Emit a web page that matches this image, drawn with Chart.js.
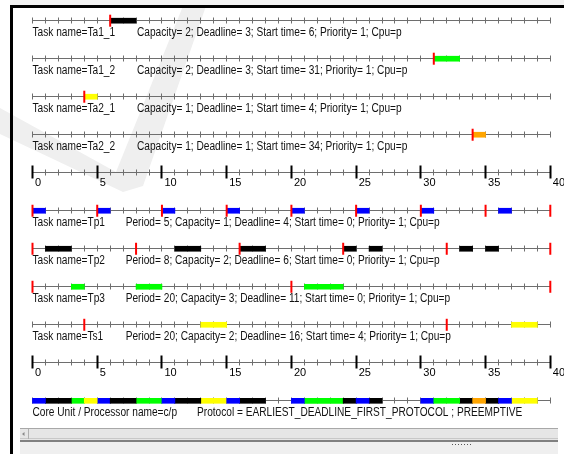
<!DOCTYPE html>
<html><head><meta charset="utf-8">
<script src="https://cdn.jsdelivr.net/npm/chart.js@4/dist/chart.umd.min.js"></script>
<style>html,body{margin:0;padding:0;background:#fff;overflow:hidden}#wrap{position:relative;width:564px;height:454px}</style>
</head><body><div id="wrap"><canvas id="c" width="564" height="454"></canvas></div>
<script>
// ---- data ----
const timeTicks = [0, 5, 10, 15, 20, 25, 30, 35, 40];
const ta1_1Runs = [[6, 8]];
const ta1_2Runs = [[31, 33]];
const ta2_1Runs = [[4, 5]];
const ta2_2Runs = [[34, 35]];
const tp1Runs = [[0, 1], [5, 6], [10, 11], [15, 16], [20, 21], [25, 26], [30, 31], [36, 37]];
const tp2Runs = [[1, 3], [11, 13], [16, 18], [24, 25], [26, 27], [33, 34], [35, 36]];
const tp3Runs = [[3, 4], [8, 10], [21, 24]];
const ts1Runs = [[13, 15], [37, 39]];
const ta1_1Releases = [6];
const ta1_2Releases = [31];
const ta2_1Releases = [4];
const ta2_2Releases = [34];
const tp1Releases = [0, 5, 10, 15, 20, 25, 30, 35, 40];
const tp2Releases = [0, 8, 16, 24, 32, 40];
const tp3Releases = [0, 20, 40];
const ts1Releases = [4, 32];
const taskNames = ['Task name=Ta1_1', 'Task name=Ta1_2', 'Task name=Ta2_1', 'Task name=Ta2_2',
  'Task name=Tp1', 'Task name=Tp2', 'Task name=Tp3', 'Task name=Ts1'];
const taskParams = [
  'Capacity= 2; Deadline= 3; Start time= 6; Priority= 1; Cpu=p',
  'Capacity= 2; Deadline= 3; Start time= 31; Priority= 1; Cpu=p',
  'Capacity= 1; Deadline= 1; Start time= 4; Priority= 1; Cpu=p',
  'Capacity= 1; Deadline= 1; Start time= 34; Priority= 1; Cpu=p',
  'Period= 5; Capacity= 1; Deadline= 4; Start time= 0; Priority= 1; Cpu=p',
  'Period= 8; Capacity= 2; Deadline= 6; Start time= 0; Priority= 1; Cpu=p',
  'Period= 20; Capacity= 3; Deadline= 11; Start time= 0; Priority= 1; Cpu=p',
  'Period= 20; Capacity= 2; Deadline= 16; Start time= 4; Priority= 1; Cpu=p'];
const coreName = 'Core Unit / Processor name=c/p';
const coreParams = 'Protocol = EARLIEST_DEADLINE_FIRST_PROTOCOL ; PREEMPTIVE';

// ---- structure / styles ----
const taskRows = [0, 1, 2, 3, 5, 6, 7, 8];
const rulerRows = [4, 9];
const coreRow = 10;
const taskRuns = [ta1_1Runs, ta1_2Runs, ta2_1Runs, ta2_2Runs, tp1Runs, tp2Runs, tp3Runs, ts1Runs];
const taskReleases = [ta1_1Releases, ta1_2Releases, ta2_1Releases, ta2_2Releases, tp1Releases, tp2Releases, tp3Releases, ts1Releases];
const taskColors = ['#000000', '#00ff00', '#ffff00', '#ffa500', '#0000ff', '#000000', '#00ff00', '#ffff00'];
const paramX = [137, 137, 137, 137, 125.7, 125.7, 125.7, 125.7];
const FAMILY = '"Liberation Sans", Arial, sans-serif';
const SX = 0.845;

const datasets = [];
taskRuns.forEach((runs, i) => {
  const pts = runs.map(r => ({x: r, y: taskRows[i]})).concat(runs.map(r => ({x: r, y: coreRow})));
  datasets.push({type: 'bar', indexAxis: 'y', grouped: false, barThickness: 5, borderWidth: 0, clip: false,
    backgroundColor: taskColors[i], data: pts, xAxisID: 'x', yAxisID: 'y', order: 1});
});
const relPts = [];
taskReleases.forEach((rel, i) => rel.forEach(t => relPts.push({x: t, y: taskRows[i]})));
datasets.push({type: 'scatter', data: relPts, pointStyle: 'line', rotation: 90, radius: 6, hoverRadius: 6, clip: false,
  borderWidth: 2, borderColor: '#ff0000', backgroundColor: '#ff0000', xAxisID: 'x', yAxisID: 'y', order: 0});

function txt(ctx, s, x, y) {
  ctx.save(); ctx.translate(x, y); ctx.scale(SX, 1); ctx.fillText(s, 0, 0); ctx.restore();
}

const deco = {
  id: 'deco',
  beforeDraw(chart) {
    const ctx = chart.ctx;
    ctx.save();
    ctx.fillStyle = '#ffffff'; ctx.fillRect(0, 0, 564, 454);
    // faint watermark
    ctx.fillStyle = '#efefef';
    ctx.beginPath();
    [[0,108],[116,172],[183,6],[206,6],[143,186],[123,192],[0,134]].forEach((p, k) => k ? ctx.lineTo(p[0], p[1]) : ctx.moveTo(p[0], p[1]));
    ctx.closePath(); ctx.fill();
    ctx.fillStyle = '#f2f2f2'; ctx.fillRect(10, 0, 554, 5);
    // frame
    ctx.fillStyle = '#000'; ctx.fillRect(10, 5, 554, 3); ctx.fillRect(10, 5, 3, 449);
    // scrollbar
    ctx.fillStyle = '#e6e6e6'; ctx.fillRect(20, 428, 538, 12);
    ctx.fillStyle = '#a8a8a8'; ctx.fillRect(20, 428, 538, 1);
    ctx.fillStyle = '#c8c8c8'; ctx.fillRect(20, 438, 538, 1);
    ctx.fillStyle = '#b0b0b0'; ctx.fillRect(28, 429, 1, 10);
    ctx.fillStyle = '#888'; ctx.beginPath(); ctx.moveTo(22, 434); ctx.lineTo(24.5, 432); ctx.lineTo(24.5, 436); ctx.closePath(); ctx.fill();
    ctx.fillStyle = '#808080'; ctx.fillRect(20, 440, 538, 2);
    ctx.fillStyle = '#efefef'; ctx.fillRect(20, 442, 538, 12);
    ctx.fillStyle = '#555';
    for (let k = 0; k < 7; k++) ctx.fillRect(452 + k * 3, 444, 1, 1);
    ctx.restore();
  },
  beforeDatasetsDraw(chart) {
    const ctx = chart.ctx, xs = chart.scales.x, ys = chart.scales.y;
    const X = v => Math.floor(xs.getPixelForValue(v)) + 0.5;
    const Y = r => Math.floor(ys.getPixelForValue(r)) + 0.5;
    ctx.save();
    const rows = taskRows.concat([coreRow]);
    ctx.lineWidth = 1; ctx.strokeStyle = '#6e6e6e';
    rows.concat(rulerRows).forEach(r => {
      const y = Y(r);
      ctx.beginPath(); ctx.moveTo(X(0), y); ctx.lineTo(X(40) + 0.5, y);
      for (let t = 0; t <= 40; t++) { ctx.moveTo(X(t), y - 3); ctx.lineTo(X(t), y + 3); }
      ctx.stroke();
    });
    ctx.fillStyle = '#000';
    rulerRows.forEach(r => {
      const y = Y(r);
      timeTicks.forEach(t => { ctx.fillRect(Math.floor(xs.getPixelForValue(t)) - 0.5, y - 7, 2, 13); });
    });
    // texts
    ctx.fillStyle = '#111';
    ctx.font = '12px ' + FAMILY;
    ctx.textBaseline = 'alphabetic';
    taskRows.forEach((r, i) => {
      const y = ys.getPixelForValue(r) + 15;
      txt(ctx, taskNames[i], xs.getPixelForValue(0), y);
      txt(ctx, taskParams[i], paramX[i], y);
    });
    const yc = ys.getPixelForValue(coreRow) + 15;
    txt(ctx, coreName, xs.getPixelForValue(0), yc);
    txt(ctx, coreParams, 197, yc);
    ctx.restore();
  }
};

const zeroPad = s => { s.paddingLeft = 0; s.paddingRight = 0; s.paddingTop = 0; s.paddingBottom = 0; };
const rulerAxis = (rowVal) => ({
  type: 'linear', min: 0, max: 40, offset: false, position: {y: rowVal}, afterFit: zeroPad,
  grid: {display: false, drawTicks: false, offset: false}, border: {display: false},
  afterBuildTicks: s => { s.ticks = timeTicks.map(v => ({value: v})); },
  ticks: {autoSkip: false, maxRotation: 0, minRotation: 0, align: 'start', labelOffset: 2.5, padding: 4,
    color: '#000', font: {family: FAMILY, size: 11}}
});

new Chart(document.getElementById('c'), {
  type: 'bar',
  data: {datasets},
  options: {
    responsive: false, animation: false, devicePixelRatio: 1,
    layout: {padding: {left: 32.5, right: 13.7, top: 20.7, bottom: 53.2}},
    plugins: {legend: {display: false}, tooltip: {enabled: false}},
    events: [],
    scales: {
      x: rulerAxis(rulerRows[0]),
      x2: rulerAxis(rulerRows[1]),
      y: {type: 'linear', min: 0, max: 10, reverse: true, display: false, offset: false, grid: {offset: false}}
    }
  },
  plugins: [deco]
});
</script>
</body></html>
